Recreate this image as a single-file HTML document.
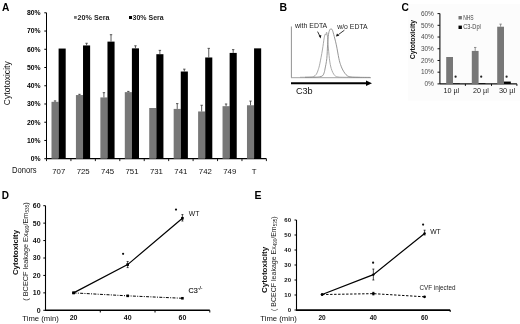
<!DOCTYPE html>
<html><head><meta charset="utf-8"><style>
html,body{margin:0;padding:0;background:#fff;overflow:hidden;width:520px;height:324px;}
svg{display:block;font-family:"Liberation Sans", sans-serif;will-change:transform;}
</style></head><body>
<svg width="520" height="324" viewBox="0 0 520 324">
<rect width="520" height="324" fill="#fff"/>
<text x="2" y="11" font-size="10.2" font-weight="bold" text-anchor="start" fill="#000" >A</text>
<line x1="46.5" y1="12.800000000000011" x2="46.5" y2="158.7" stroke="#000" stroke-width="1"/>
<line x1="44.3" y1="158.7" x2="46.5" y2="158.7" stroke="#000" stroke-width="1"/>
<text x="40.6" y="161.1" font-size="6.8" font-weight="bold" text-anchor="end" fill="#000" >0%</text>
<line x1="44.3" y1="140.46249999999998" x2="46.5" y2="140.46249999999998" stroke="#000" stroke-width="1"/>
<text x="40.6" y="142.86249999999998" font-size="6.8" font-weight="bold" text-anchor="end" fill="#000" >10%</text>
<line x1="44.3" y1="122.225" x2="46.5" y2="122.225" stroke="#000" stroke-width="1"/>
<text x="40.6" y="124.625" font-size="6.8" font-weight="bold" text-anchor="end" fill="#000" >20%</text>
<line x1="44.3" y1="103.9875" x2="46.5" y2="103.9875" stroke="#000" stroke-width="1"/>
<text x="40.6" y="106.3875" font-size="6.8" font-weight="bold" text-anchor="end" fill="#000" >30%</text>
<line x1="44.3" y1="85.75" x2="46.5" y2="85.75" stroke="#000" stroke-width="1"/>
<text x="40.6" y="88.15" font-size="6.8" font-weight="bold" text-anchor="end" fill="#000" >40%</text>
<line x1="44.3" y1="67.5125" x2="46.5" y2="67.5125" stroke="#000" stroke-width="1"/>
<text x="40.6" y="69.91250000000001" font-size="6.8" font-weight="bold" text-anchor="end" fill="#000" >50%</text>
<line x1="44.3" y1="49.275000000000006" x2="46.5" y2="49.275000000000006" stroke="#000" stroke-width="1"/>
<text x="40.6" y="51.675000000000004" font-size="6.8" font-weight="bold" text-anchor="end" fill="#000" >60%</text>
<line x1="44.3" y1="31.03750000000001" x2="46.5" y2="31.03750000000001" stroke="#000" stroke-width="1"/>
<text x="40.6" y="33.43750000000001" font-size="6.8" font-weight="bold" text-anchor="end" fill="#000" >70%</text>
<line x1="44.3" y1="12.800000000000011" x2="46.5" y2="12.800000000000011" stroke="#000" stroke-width="1"/>
<text x="40.6" y="15.200000000000012" font-size="6.8" font-weight="bold" text-anchor="end" fill="#000" >80%</text>
<line x1="46.5" y1="158.7" x2="266.4" y2="158.7" stroke="#000" stroke-width="1.2"/>
<line x1="46.5" y1="158.7" x2="46.5" y2="161.1" stroke="#000" stroke-width="0.9"/>
<line x1="70.93333333333334" y1="158.7" x2="70.93333333333334" y2="161.1" stroke="#000" stroke-width="0.9"/>
<line x1="95.36666666666666" y1="158.7" x2="95.36666666666666" y2="161.1" stroke="#000" stroke-width="0.9"/>
<line x1="119.79999999999998" y1="158.7" x2="119.79999999999998" y2="161.1" stroke="#000" stroke-width="0.9"/>
<line x1="144.23333333333332" y1="158.7" x2="144.23333333333332" y2="161.1" stroke="#000" stroke-width="0.9"/>
<line x1="168.66666666666666" y1="158.7" x2="168.66666666666666" y2="161.1" stroke="#000" stroke-width="0.9"/>
<line x1="193.09999999999997" y1="158.7" x2="193.09999999999997" y2="161.1" stroke="#000" stroke-width="0.9"/>
<line x1="217.5333333333333" y1="158.7" x2="217.5333333333333" y2="161.1" stroke="#000" stroke-width="0.9"/>
<line x1="241.96666666666664" y1="158.7" x2="241.96666666666664" y2="161.1" stroke="#000" stroke-width="0.9"/>
<line x1="266.4" y1="158.7" x2="266.4" y2="161.1" stroke="#000" stroke-width="0.9"/>
<rect x="51.50" y="101.80" width="7.1" height="56.90" fill="#777"/>
<rect x="58.60" y="48.55" width="7.1" height="110.15" fill="#000"/>
<line x1="55.05" y1="100.89" x2="55.05" y2="101.80" stroke="#333" stroke-width="0.8"/>
<line x1="53.85" y1="100.89" x2="56.25" y2="100.89" stroke="#333" stroke-width="0.8"/>
<text x="58.72" y="174" font-size="7.8" font-weight="normal" text-anchor="middle" fill="#111" >707</text>
<rect x="75.93" y="95.05" width="7.1" height="63.65" fill="#777"/>
<rect x="83.03" y="45.45" width="7.1" height="113.25" fill="#000"/>
<line x1="79.48" y1="94.32" x2="79.48" y2="95.05" stroke="#333" stroke-width="0.8"/>
<line x1="78.28" y1="94.32" x2="80.68" y2="94.32" stroke="#333" stroke-width="0.8"/>
<line x1="86.58" y1="43.26" x2="86.58" y2="45.45" stroke="#333" stroke-width="0.8"/>
<line x1="85.38" y1="43.26" x2="87.78" y2="43.26" stroke="#333" stroke-width="0.8"/>
<text x="83.15" y="174" font-size="7.8" font-weight="normal" text-anchor="middle" fill="#111" >725</text>
<rect x="100.37" y="97.42" width="7.1" height="61.28" fill="#777"/>
<rect x="107.47" y="41.62" width="7.1" height="117.08" fill="#000"/>
<line x1="103.92" y1="92.68" x2="103.92" y2="97.42" stroke="#333" stroke-width="0.8"/>
<line x1="102.72" y1="92.68" x2="105.12" y2="92.68" stroke="#333" stroke-width="0.8"/>
<line x1="111.02" y1="34.69" x2="111.02" y2="41.62" stroke="#333" stroke-width="0.8"/>
<line x1="109.82" y1="34.69" x2="112.22" y2="34.69" stroke="#333" stroke-width="0.8"/>
<text x="107.58" y="174" font-size="7.8" font-weight="normal" text-anchor="middle" fill="#111" >745</text>
<rect x="124.80" y="92.13" width="7.1" height="66.57" fill="#777"/>
<rect x="131.90" y="48.36" width="7.1" height="110.34" fill="#000"/>
<line x1="128.35" y1="91.40" x2="128.35" y2="92.13" stroke="#333" stroke-width="0.8"/>
<line x1="127.15" y1="91.40" x2="129.55" y2="91.40" stroke="#333" stroke-width="0.8"/>
<line x1="135.45" y1="45.81" x2="135.45" y2="48.36" stroke="#333" stroke-width="0.8"/>
<line x1="134.25" y1="45.81" x2="136.65" y2="45.81" stroke="#333" stroke-width="0.8"/>
<text x="132.02" y="174" font-size="7.8" font-weight="normal" text-anchor="middle" fill="#111" >751</text>
<rect x="149.23" y="108.00" width="7.1" height="50.70" fill="#777"/>
<rect x="156.33" y="54.20" width="7.1" height="104.50" fill="#000"/>
<line x1="159.88" y1="50.37" x2="159.88" y2="54.20" stroke="#333" stroke-width="0.8"/>
<line x1="158.68" y1="50.37" x2="161.08" y2="50.37" stroke="#333" stroke-width="0.8"/>
<text x="156.45" y="174" font-size="7.8" font-weight="normal" text-anchor="middle" fill="#111" >731</text>
<rect x="173.67" y="108.91" width="7.1" height="49.79" fill="#777"/>
<rect x="180.77" y="71.52" width="7.1" height="87.18" fill="#000"/>
<line x1="177.22" y1="103.62" x2="177.22" y2="108.91" stroke="#333" stroke-width="0.8"/>
<line x1="176.02" y1="103.62" x2="178.42" y2="103.62" stroke="#333" stroke-width="0.8"/>
<line x1="184.32" y1="69.15" x2="184.32" y2="71.52" stroke="#333" stroke-width="0.8"/>
<line x1="183.12" y1="69.15" x2="185.52" y2="69.15" stroke="#333" stroke-width="0.8"/>
<text x="180.88" y="174" font-size="7.8" font-weight="normal" text-anchor="middle" fill="#111" >741</text>
<rect x="198.10" y="111.46" width="7.1" height="47.24" fill="#777"/>
<rect x="205.20" y="57.48" width="7.1" height="101.22" fill="#000"/>
<line x1="201.65" y1="105.26" x2="201.65" y2="111.46" stroke="#333" stroke-width="0.8"/>
<line x1="200.45" y1="105.26" x2="202.85" y2="105.26" stroke="#333" stroke-width="0.8"/>
<line x1="208.75" y1="48.36" x2="208.75" y2="57.48" stroke="#333" stroke-width="0.8"/>
<line x1="207.55" y1="48.36" x2="209.95" y2="48.36" stroke="#333" stroke-width="0.8"/>
<text x="205.32" y="174" font-size="7.8" font-weight="normal" text-anchor="middle" fill="#111" >742</text>
<rect x="222.53" y="106.18" width="7.1" height="52.52" fill="#777"/>
<rect x="229.63" y="52.92" width="7.1" height="105.78" fill="#000"/>
<line x1="226.08" y1="103.99" x2="226.08" y2="106.18" stroke="#333" stroke-width="0.8"/>
<line x1="224.88" y1="103.99" x2="227.28" y2="103.99" stroke="#333" stroke-width="0.8"/>
<line x1="233.18" y1="49.64" x2="233.18" y2="52.92" stroke="#333" stroke-width="0.8"/>
<line x1="231.98" y1="49.64" x2="234.38" y2="49.64" stroke="#333" stroke-width="0.8"/>
<text x="229.75" y="174" font-size="7.8" font-weight="normal" text-anchor="middle" fill="#111" >749</text>
<rect x="246.97" y="105.26" width="7.1" height="53.44" fill="#777"/>
<rect x="254.07" y="48.36" width="7.1" height="110.34" fill="#000"/>
<line x1="250.52" y1="101.07" x2="250.52" y2="105.26" stroke="#333" stroke-width="0.8"/>
<line x1="249.32" y1="101.07" x2="251.72" y2="101.07" stroke="#333" stroke-width="0.8"/>
<text x="254.18" y="174" font-size="7.8" font-weight="normal" text-anchor="middle" fill="#111" >T</text>
<text x="11.9" y="172.9" font-size="8.2" font-weight="normal" text-anchor="start" fill="#111" textLength="24.6" lengthAdjust="spacingAndGlyphs" >Donors</text>
<rect x="74" y="16" width="2.8" height="2.8" fill="#777"/>
<text x="77.6" y="19.6" font-size="7.1" font-weight="bold" text-anchor="start" fill="#222" textLength="31.8" lengthAdjust="spacingAndGlyphs" >20% Sera</text>
<rect x="129" y="16" width="3" height="3" fill="#000"/>
<text x="132.6" y="19.6" font-size="7.1" font-weight="bold" text-anchor="start" fill="#222" textLength="31.1" lengthAdjust="spacingAndGlyphs" >30% Sera</text>
<text x="0" y="0" font-size="8.6" fill="#111" text-anchor="middle" transform="translate(10.4,83.2) rotate(-90)">Cytotoxicity</text>
<text x="279.6" y="11" font-size="10.5" font-weight="bold" text-anchor="start" fill="#000" >B</text>
<text x="295.1" y="27.9" font-size="7.0" font-weight="normal" text-anchor="start" fill="#222" textLength="32.1" lengthAdjust="spacingAndGlyphs" >with EDTA</text>
<text x="337.2" y="28.5" font-size="7.0" font-weight="normal" text-anchor="start" fill="#222" textLength="30.5" lengthAdjust="spacingAndGlyphs" >w/o EDTA</text>
<line x1="291.4" y1="26.5" x2="291.4" y2="77.6" stroke="#777" stroke-width="0.8"/>
<line x1="291" y1="77.7" x2="371" y2="77.7" stroke="#999" stroke-width="0.9"/>
<line x1="291" y1="83.3" x2="367" y2="83.3" stroke="#000" stroke-width="2"/>
<path d="M366 80.6 L372 83.3 L366 86 Z" fill="#000"/>
<text x="295.9" y="94.2" font-size="9.4" font-weight="normal" text-anchor="start" fill="#111" textLength="16.8" lengthAdjust="spacingAndGlyphs" >C3b</text>
<path d="M300 77.3 C301.67 77.28 307.75 77.32 310 77.2 C312.25 77.08 312.43 77.10 313.5 76.6 C314.57 76.10 315.60 75.38 316.4 74.2 C317.20 73.02 317.73 71.23 318.3 69.5 C318.87 67.77 319.12 67.05 319.8 63.8 C320.48 60.55 321.67 54.33 322.4 50 C323.13 45.67 323.72 40.47 324.2 37.8 C324.68 35.13 325.00 34.47 325.3 34 C325.60 33.53 325.78 35.30 326 35 C326.22 34.70 326.37 32.03 326.6 32.2 C326.83 32.37 327.15 33.90 327.4 36 C327.65 38.10 327.77 41.03 328.1 44.8 C328.43 48.57 328.98 55.07 329.4 58.6 C329.82 62.13 330.17 63.98 330.6 66 C331.03 68.02 331.47 69.32 332 70.7 C332.53 72.08 333.23 73.42 333.8 74.3 C334.37 75.18 334.70 75.55 335.4 76 C336.10 76.45 336.40 76.78 338 77 C339.60 77.22 341.33 77.23 345 77.3 C348.67 77.37 357.50 77.38 360 77.4" fill="none" stroke="#a0a0a0" stroke-width="0.9"/>
<path d="M305 77.3 C306.67 77.28 312.58 77.28 315 77.2 C317.42 77.12 318.27 77.02 319.5 76.8 C320.73 76.58 321.65 76.50 322.4 75.9 C323.15 75.30 323.57 74.35 324 73.2 C324.43 72.05 324.53 71.43 325 69 C325.47 66.57 326.37 62.63 326.8 58.6 C327.23 54.57 327.32 48.83 327.6 44.8 C327.88 40.77 328.15 36.87 328.5 34.4 C328.85 31.93 329.27 30.93 329.7 30 C330.13 29.07 330.65 28.77 331.1 28.8 C331.55 28.83 331.97 29.27 332.4 30.2 C332.83 31.13 333.05 31.97 333.7 34.4 C334.35 36.83 335.43 40.77 336.3 44.8 C337.17 48.83 338.20 55.32 338.9 58.6 C339.60 61.88 339.93 62.77 340.5 64.5 C341.07 66.23 341.58 67.55 342.3 69 C343.02 70.45 343.93 72.05 344.8 73.2 C345.67 74.35 346.47 75.27 347.5 75.9 C348.53 76.53 349.25 76.77 351 77 C352.75 77.23 354.83 77.23 358 77.3 C361.17 77.37 368.00 77.38 370 77.4" fill="none" stroke="#8a8a8a" stroke-width="0.9"/>
<line x1="317.6" y1="31.6" x2="319.9" y2="36.2" stroke="#222" stroke-width="0.9"/>
<path d="M318.6 35.7 L320.7 38.5 L321.3 35 Z" fill="#111"/>
<line x1="344.4" y1="30.2" x2="338.4" y2="34.6" stroke="#222" stroke-width="0.9"/>
<path d="M337 33.5 L335.9 36.5 L339.3 35.7 Z" fill="#111"/>
<rect x="408" y="3.8" width="112" height="96.8" fill="#fcfcfc"/>
<text x="401.5" y="11" font-size="10.2" font-weight="bold" text-anchor="start" fill="#000" >C</text>
<line x1="439.9" y1="13.60" x2="439.9" y2="83.9" stroke="#111" stroke-width="1.1"/>
<line x1="437.5" y1="83.90" x2="439.9" y2="83.90" stroke="#111" stroke-width="1"/>
<text x="433.9" y="86.10" font-size="6.4" font-weight="normal" text-anchor="end" fill="#4a4a4a" textLength="9.5" lengthAdjust="spacingAndGlyphs" >0%</text>
<line x1="437.5" y1="72.18" x2="439.9" y2="72.18" stroke="#111" stroke-width="1"/>
<text x="433.9" y="74.38" font-size="6.4" font-weight="normal" text-anchor="end" fill="#4a4a4a" textLength="13" lengthAdjust="spacingAndGlyphs" >10%</text>
<line x1="437.5" y1="60.47" x2="439.9" y2="60.47" stroke="#111" stroke-width="1"/>
<text x="433.9" y="62.67" font-size="6.4" font-weight="normal" text-anchor="end" fill="#4a4a4a" textLength="13" lengthAdjust="spacingAndGlyphs" >20%</text>
<line x1="437.5" y1="48.75" x2="439.9" y2="48.75" stroke="#111" stroke-width="1"/>
<text x="433.9" y="50.95" font-size="6.4" font-weight="normal" text-anchor="end" fill="#4a4a4a" textLength="13" lengthAdjust="spacingAndGlyphs" >30%</text>
<line x1="437.5" y1="37.03" x2="439.9" y2="37.03" stroke="#111" stroke-width="1"/>
<text x="433.9" y="39.23" font-size="6.4" font-weight="normal" text-anchor="end" fill="#4a4a4a" textLength="13" lengthAdjust="spacingAndGlyphs" >40%</text>
<line x1="437.5" y1="25.32" x2="439.9" y2="25.32" stroke="#111" stroke-width="1"/>
<text x="433.9" y="27.52" font-size="6.4" font-weight="normal" text-anchor="end" fill="#4a4a4a" textLength="13" lengthAdjust="spacingAndGlyphs" >50%</text>
<line x1="437.5" y1="13.60" x2="439.9" y2="13.60" stroke="#111" stroke-width="1"/>
<text x="433.9" y="15.80" font-size="6.4" font-weight="normal" text-anchor="end" fill="#4a4a4a" textLength="13" lengthAdjust="spacingAndGlyphs" >60%</text>
<line x1="439.9" y1="83.9" x2="516.9" y2="83.9" stroke="#111" stroke-width="1.2"/>
<line x1="465.40" y1="83.9" x2="465.40" y2="85.9" stroke="#111" stroke-width="1"/>
<line x1="491.50" y1="83.9" x2="491.50" y2="85.9" stroke="#111" stroke-width="1"/>
<line x1="516.90" y1="83.9" x2="516.90" y2="85.9" stroke="#111" stroke-width="1"/>
<rect x="446.20" y="57.00" width="6.8" height="26.90" fill="#777"/>
<rect x="453.00" y="83.43" width="6.8" height="0.47" fill="#000"/>
<circle cx="455.60" cy="76.7" r="1.1" fill="#222"/>
<rect x="471.80" y="50.91" width="6.8" height="32.99" fill="#777"/>
<rect x="478.60" y="83.20" width="6.8" height="0.70" fill="#000"/>
<line x1="475.20" y1="47.46" x2="475.20" y2="50.91" stroke="#777" stroke-width="0.8"/>
<line x1="474.00" y1="47.46" x2="476.40" y2="47.46" stroke="#777" stroke-width="0.8"/>
<circle cx="481.20" cy="76.7" r="1.1" fill="#222"/>
<rect x="497.20" y="26.72" width="6.8" height="57.18" fill="#777"/>
<rect x="504.00" y="81.56" width="6.8" height="2.34" fill="#000"/>
<line x1="500.60" y1="24.14" x2="500.60" y2="26.72" stroke="#777" stroke-width="0.8"/>
<line x1="499.40" y1="24.14" x2="501.80" y2="24.14" stroke="#777" stroke-width="0.8"/>
<circle cx="506.60" cy="76.7" r="1.1" fill="#222"/>
<text x="451.3" y="93.1" font-size="6.9" font-weight="normal" text-anchor="middle" fill="#222" textLength="15.8" lengthAdjust="spacingAndGlyphs" >10 µl</text>
<text x="481" y="93.1" font-size="6.9" font-weight="normal" text-anchor="middle" fill="#222" textLength="15.8" lengthAdjust="spacingAndGlyphs" >20 µl</text>
<text x="507" y="93.1" font-size="6.9" font-weight="normal" text-anchor="middle" fill="#222" textLength="16.2" lengthAdjust="spacingAndGlyphs" >30 µl</text>
<rect x="458.5" y="16" width="3.4" height="3.4" fill="#777"/>
<text x="463.2" y="19.7" font-size="6.4" font-weight="normal" text-anchor="start" fill="#444" textLength="10.5" lengthAdjust="spacingAndGlyphs" >NHS</text>
<rect x="458.5" y="25.6" width="3.4" height="3.4" fill="#000"/>
<text x="463.2" y="29.3" font-size="6.4" font-weight="normal" text-anchor="start" fill="#444" textLength="17.7" lengthAdjust="spacingAndGlyphs" >C3-Dpl</text>
<text x="0" y="0" font-size="6.9" font-weight="bold" fill="#111" text-anchor="middle" textLength="39.5" lengthAdjust="spacingAndGlyphs" transform="translate(415,39.6) rotate(-90)">Cytotoxicity</text>
<text x="1.8" y="199" font-size="10" font-weight="bold" text-anchor="start" fill="#000" >D</text>
<line x1="45.5" y1="205.70" x2="45.5" y2="310.3" stroke="#000" stroke-width="1.1"/>
<line x1="43.3" y1="310.30" x2="45.5" y2="310.30" stroke="#000" stroke-width="1"/>
<text x="40.6" y="312.70" font-size="7.0" font-weight="bold" text-anchor="end" fill="#111" >0</text>
<line x1="43.3" y1="292.87" x2="45.5" y2="292.87" stroke="#000" stroke-width="1"/>
<text x="40.6" y="295.27" font-size="7.0" font-weight="bold" text-anchor="end" fill="#111" >10</text>
<line x1="43.3" y1="275.43" x2="45.5" y2="275.43" stroke="#000" stroke-width="1"/>
<text x="40.6" y="277.83" font-size="7.0" font-weight="bold" text-anchor="end" fill="#111" >20</text>
<line x1="43.3" y1="258.00" x2="45.5" y2="258.00" stroke="#000" stroke-width="1"/>
<text x="40.6" y="260.40" font-size="7.0" font-weight="bold" text-anchor="end" fill="#111" >30</text>
<line x1="43.3" y1="240.57" x2="45.5" y2="240.57" stroke="#000" stroke-width="1"/>
<text x="40.6" y="242.97" font-size="7.0" font-weight="bold" text-anchor="end" fill="#111" >40</text>
<line x1="43.3" y1="223.13" x2="45.5" y2="223.13" stroke="#000" stroke-width="1"/>
<text x="40.6" y="225.53" font-size="7.0" font-weight="bold" text-anchor="end" fill="#111" >50</text>
<line x1="43.3" y1="205.70" x2="45.5" y2="205.70" stroke="#000" stroke-width="1"/>
<text x="40.6" y="208.10" font-size="7.0" font-weight="bold" text-anchor="end" fill="#111" >60</text>
<line x1="45.0" y1="310.2" x2="209.8" y2="310.2" stroke="#000" stroke-width="1.6"/>
<line x1="100.27" y1="310.3" x2="100.27" y2="312.5" stroke="#000" stroke-width="1"/>
<line x1="155.03" y1="310.3" x2="155.03" y2="312.5" stroke="#000" stroke-width="1"/>
<line x1="209.80" y1="310.3" x2="209.80" y2="312.5" stroke="#000" stroke-width="1"/>
<text x="73.58" y="320.4" font-size="7.0" font-weight="bold" text-anchor="middle" fill="#111" >20</text>
<text x="127.65" y="320.4" font-size="7.0" font-weight="bold" text-anchor="middle" fill="#111" >40</text>
<text x="182.42" y="320.4" font-size="7.0" font-weight="bold" text-anchor="middle" fill="#111" >60</text>
<text x="22.3" y="320.8" font-size="7.7" font-weight="normal" text-anchor="start" fill="#111" >Time (min)</text>
<polyline points="73.58,292.87 127.65,264.62 182.42,218.25" fill="none" stroke="#000" stroke-width="1.2"/>
<polyline points="73.58,292.87 127.65,295.83 182.42,298.27" fill="none" stroke="#000" stroke-width="1" stroke-dasharray="3 1.3 1 1.3"/>
<rect x="72.28" y="291.57" width="2.6" height="2.6" fill="#000"/>
<rect x="72.28" y="291.57" width="2.6" height="2.6" fill="#000"/>
<rect x="126.35" y="294.53" width="2.6" height="2.6" fill="#000"/>
<rect x="126.35" y="263.32" width="2.6" height="2.6" fill="#000"/>
<rect x="181.12" y="296.97" width="2.6" height="2.6" fill="#000"/>
<rect x="181.12" y="216.95" width="2.6" height="2.6" fill="#000"/>
<line x1="127.65" y1="261.49" x2="127.65" y2="267.59" stroke="#000" stroke-width="0.7"/>
<line x1="126.65" y1="267.59" x2="128.65" y2="267.59" stroke="#000" stroke-width="0.7"/>
<line x1="126.65" y1="261.49" x2="128.65" y2="261.49" stroke="#000" stroke-width="0.7"/>
<line x1="182.42" y1="214.59" x2="182.42" y2="221.04" stroke="#000" stroke-width="0.7"/>
<line x1="181.42" y1="221.04" x2="183.42" y2="221.04" stroke="#000" stroke-width="0.7"/>
<line x1="181.42" y1="214.59" x2="183.42" y2="214.59" stroke="#000" stroke-width="0.7"/>
<circle cx="123.1" cy="253.8" r="1.1" fill="#111"/>
<circle cx="176" cy="209.6" r="1.1" fill="#111"/>
<text x="188.8" y="216.3" font-size="6.8" font-weight="normal" text-anchor="start" fill="#111" >WT</text>
<text x="188.5" y="292.9" font-size="7.2" font-weight="normal" text-anchor="start" fill="#111" stroke="#111" stroke-width="0.15">C3<tspan font-size="4.6" dy="-2.8" dx="0.3">-/-</tspan></text>
<text x="0" y="0" font-size="7.9" font-weight="bold" fill="#111" text-anchor="middle" transform="translate(18.4,252.5) rotate(-90)">Cytotoxicity</text>
<text x="0" y="0" font-size="7.3" fill="#222" text-anchor="middle" transform="translate(27.5,251.5) rotate(-90)">( BCECF leakage Ex<tspan font-size="4.7" dy="1.5">490</tspan><tspan dy="-1.5">/Em</tspan><tspan font-size="4.7" dy="1.5">535</tspan><tspan dy="-1.5">)</tspan></text>
<text x="254.4" y="199.4" font-size="10.5" font-weight="bold" text-anchor="start" fill="#000" >E</text>
<line x1="296.5" y1="220.00" x2="296.5" y2="310.0" stroke="#000" stroke-width="1.1"/>
<line x1="294.5" y1="310.00" x2="296.5" y2="310.00" stroke="#000" stroke-width="1"/>
<text x="291" y="312.10" font-size="6.0" font-weight="bold" text-anchor="end" fill="#111" >0</text>
<line x1="294.5" y1="295.00" x2="296.5" y2="295.00" stroke="#000" stroke-width="1"/>
<text x="291" y="297.10" font-size="6.0" font-weight="bold" text-anchor="end" fill="#111" >10</text>
<line x1="294.5" y1="280.00" x2="296.5" y2="280.00" stroke="#000" stroke-width="1"/>
<text x="291" y="282.10" font-size="6.0" font-weight="bold" text-anchor="end" fill="#111" >20</text>
<line x1="294.5" y1="265.00" x2="296.5" y2="265.00" stroke="#000" stroke-width="1"/>
<text x="291" y="267.10" font-size="6.0" font-weight="bold" text-anchor="end" fill="#111" >30</text>
<line x1="294.5" y1="250.00" x2="296.5" y2="250.00" stroke="#000" stroke-width="1"/>
<text x="291" y="252.10" font-size="6.0" font-weight="bold" text-anchor="end" fill="#111" >40</text>
<line x1="294.5" y1="235.00" x2="296.5" y2="235.00" stroke="#000" stroke-width="1"/>
<text x="291" y="237.10" font-size="6.0" font-weight="bold" text-anchor="end" fill="#111" >50</text>
<line x1="294.5" y1="220.00" x2="296.5" y2="220.00" stroke="#000" stroke-width="1"/>
<text x="291" y="222.10" font-size="6.0" font-weight="bold" text-anchor="end" fill="#111" >60</text>
<line x1="296.0" y1="310.1" x2="450.2" y2="310.1" stroke="#000" stroke-width="1.6"/>
<line x1="450.20" y1="310.0" x2="450.20" y2="312.0" stroke="#000" stroke-width="1"/>
<text x="322.12" y="319.8" font-size="6.5" font-weight="bold" text-anchor="middle" fill="#111" >20</text>
<text x="373.35" y="319.8" font-size="6.5" font-weight="bold" text-anchor="middle" fill="#111" >40</text>
<text x="424.58" y="319.8" font-size="6.5" font-weight="bold" text-anchor="middle" fill="#111" >60</text>
<text x="260.3" y="320.9" font-size="7.7" font-weight="normal" text-anchor="start" fill="#111" >Time (min)</text>
<polyline points="322.12,294.55 373.35,274.60 424.58,233.50" fill="none" stroke="#000" stroke-width="1.2"/>
<polyline points="322.12,294.55 373.35,293.65 424.58,296.80" fill="none" stroke="#000" stroke-width="1" stroke-dasharray="2.4 1.6"/>
<circle cx="322.12" cy="294.55" r="1.4" fill="#000"/>
<circle cx="322.12" cy="294.55" r="1.2" fill="#000"/>
<circle cx="373.35" cy="293.65" r="1.4" fill="#000"/>
<circle cx="373.35" cy="274.60" r="1.2" fill="#000"/>
<circle cx="424.58" cy="296.80" r="1.4" fill="#000"/>
<circle cx="424.58" cy="233.50" r="1.2" fill="#000"/>
<line x1="373.35" y1="269.05" x2="373.35" y2="280.00" stroke="#000" stroke-width="0.7"/>
<line x1="372.35" y1="280.00" x2="374.35" y2="280.00" stroke="#000" stroke-width="0.7"/>
<line x1="372.35" y1="269.05" x2="374.35" y2="269.05" stroke="#000" stroke-width="0.7"/>
<line x1="424.58" y1="230.20" x2="424.58" y2="235.00" stroke="#000" stroke-width="0.7"/>
<line x1="423.58" y1="235.00" x2="425.58" y2="235.00" stroke="#000" stroke-width="0.7"/>
<line x1="423.58" y1="230.20" x2="425.58" y2="230.20" stroke="#000" stroke-width="0.7"/>
<line x1="373.35" y1="292.30" x2="373.35" y2="295.00" stroke="#000" stroke-width="0.7"/>
<line x1="372.35" y1="295.00" x2="374.35" y2="295.00" stroke="#000" stroke-width="0.7"/>
<line x1="372.35" y1="292.30" x2="374.35" y2="292.30" stroke="#000" stroke-width="0.7"/>
<circle cx="373.1" cy="262.7" r="1.1" fill="#111"/>
<circle cx="423.1" cy="224.6" r="1.1" fill="#111"/>
<text x="430.2" y="233.5" font-size="6.8" font-weight="normal" text-anchor="start" fill="#111" >WT</text>
<text x="419.4" y="290" font-size="6.3" font-weight="normal" text-anchor="start" fill="#222" >CVF injected</text>
<text x="0" y="0" font-size="8.1" font-weight="bold" fill="#111" text-anchor="middle" transform="translate(267.3,269.9) rotate(-90)">Cytotoxicity</text>
<text x="0" y="0" font-size="7.0" fill="#222" text-anchor="middle" transform="translate(275.6,263.7) rotate(-90)">( BCECF leakage Ex<tspan font-size="4.5" dy="1.4">490</tspan><tspan dy="-1.4">/Em</tspan><tspan font-size="4.5" dy="1.4">535</tspan><tspan dy="-1.4">)</tspan></text>
</svg>
</body></html>
